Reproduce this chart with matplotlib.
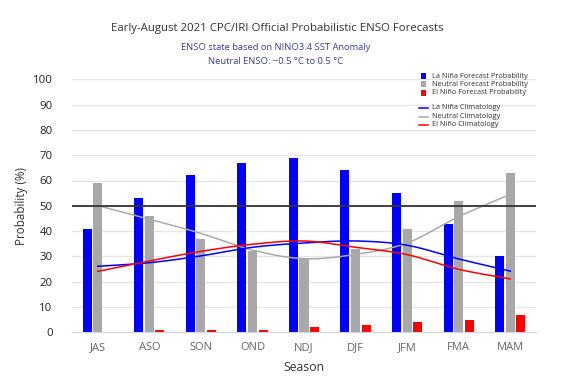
import numpy as np
import matplotlib
matplotlib.use("Agg")
import matplotlib.pyplot as plt
from matplotlib.patches import Rectangle
from matplotlib.lines import Line2D

seasons = ["JAS", "ASO", "SON", "OND", "NDJ", "DJF", "JFM", "FMA", "MAM"]
lanina_prob = [41, 53, 62, 67, 69, 64, 55, 43, 30]
neutral_prob = [59, 46, 37, 32, 29, 33, 41, 52, 63]
elnino_prob = [0, 1, 1, 1, 2, 3, 4, 5, 7]
lanina_clim = [26.1, 27.5, 30.2, 33.6, 35.3, 36.1, 34.4, 29.0, 24.2]
neutral_clim = [50.1, 44.7, 39.1, 32.5, 29.1, 30.8, 35.3, 45.7, 54.5]
elnino_clim = [24.1, 28.2, 32.0, 34.8, 36.1, 33.6, 30.7, 24.9, 21.1]
yticks = list(range(0, 101, 10))

title = "Early-August 2021 CPC/IRI Official Probabilistic ENSO Forecasts"
sub1 = "ENSO state based on NINO3.4 SST Anomaly"
sub2 = "Neutral ENSO: \u22120.5 \u00b0C to 0.5 \u00b0C"

bar_names = ["La Niña Forecast Probability", "Neutral Forecast Probability", "El Niño Forecast Probability"]
line_names = ["La Niña Climatology", "Neutral Climatology", "El Niño Climatology"]
bar_colors = ["#0000ff", "#a8a8a8", "#ff0000"]
line_colors = ["#0000ff", "#aaaaaa", "#ff0000"]

W, H = 570, 382
plt.rcParams['font.family'] = ['Open Sans', 'DejaVu Sans']
fig = plt.figure(figsize=(W / 100, H / 100), dpi=100)

def fx(x):
    return x / W

def fy(y):
    return 1 - y / H

ax = fig.add_axes([fx(72), fy(332.3), (536 - 72) / W, (332.3 - 79.3) / H])
x = np.arange(len(seasons))
bw = 0.175
for off, vals, c in zip([-0.205, 0, 0.205], [lanina_prob, neutral_prob, elnino_prob], bar_colors):
    ax.bar(x + off, vals, width=bw, color=c, zorder=3, linewidth=0)

def catmull(xs, ys, n=30):
    xs = np.asarray(xs, float); ys = np.asarray(ys, float)
    P = np.concatenate([[ys[0]], ys, [ys[-1]]])
    X = np.concatenate([[xs[0]], xs, [xs[-1]]])
    ox, oy = [], []
    for i in range(1, len(P) - 2):
        t = np.linspace(0, 1, n)
        for arr, out in ((X, ox), (P, oy)):
            p0, p1, p2, p3 = arr[i - 1], arr[i], arr[i + 1], arr[i + 2]
            m1 = (p2 - p0) / 2
            m2 = (p3 - p1) / 2
            h00 = 2 * t**3 - 3 * t**2 + 1
            h10 = t**3 - 2 * t**2 + t
            h01 = -2 * t**3 + 3 * t**2
            h11 = t**3 - t**2
            out.extend(h00 * p1 + h10 * m1 + h01 * p2 + h11 * m2)
    return np.array(ox), np.array(oy)

for vals, c in zip([neutral_clim, lanina_clim, elnino_clim], [line_colors[1], line_colors[0], line_colors[2]]):
    sx, sy = catmull(x, vals)
    ax.plot(sx, sy, color=c, lw=1.1, zorder=4)

ax.axhline(50, color="#333333", lw=1.3, zorder=5)

ax.set_xlim(-0.5, len(seasons) - 0.5)
ax.set_ylim(0, 100)
ax.set_yticks(yticks)
ax.set_yticklabels([str(v) for v in yticks], fontsize=8.2, color="#222222")
ax.set_xticks(x)
ax.set_xticklabels(seasons, fontsize=8, color="#666666")
ax.tick_params(axis='both', length=0)
ax.tick_params(axis='y', pad=14)
ax.tick_params(axis='x', pad=7)
ax.grid(axis='y', color="#e6e6e6", lw=1, zorder=0)
for s in ["top", "right", "left"]:
    ax.spines[s].set_visible(False)
ax.spines["bottom"].set_color("#ccd6eb")
ax.spines["bottom"].set_zorder(6)
ax.set_xlabel("Season", fontsize=8.8, color="#333333", labelpad=6)
ax.set_ylabel("Probability (%)", fontsize=8.4, color="#333333")
ax.yaxis.set_label_coords((28 - 72) / 464, 0.5)

fig.text(fx(277), fy(28), title, ha="center", va="center", fontsize=8.2, color="#333333")
fig.text(fx(276), fy(47.5), sub1, ha="center", va="center", fontsize=6.75, color="#3d3d9a")
fig.text(fx(276), fy(62), sub2, ha="center", va="center", fontsize=6.75, color="#3d3d9a")

# legend
rows = [76, 84.3, 92.7]
for yy, name, c in zip(rows, bar_names, bar_colors):
    fig.patches.append(Rectangle((fx(420.5), fy(yy + 3)), 5.5 / W, 6 / H, transform=fig.transFigure,
                                 facecolor=c, edgecolor="none"))
    fig.text(fx(432.5), fy(yy), name, ha="left", va="center", fontsize=5.3, color="#333333")
rows2 = [108.3, 116.7, 124.7]
for yy, name, c in zip(rows2, line_names, line_colors):
    fig.lines.append(Line2D([fx(419), fx(427.7)], [fy(yy), fy(yy)], transform=fig.transFigure,
                            color=c, lw=1.1))
    fig.text(fx(432.5), fy(yy - 0.5), name, ha="left", va="center", fontsize=5.3, color="#333333")

fig.savefig("out.png", dpi=100)
